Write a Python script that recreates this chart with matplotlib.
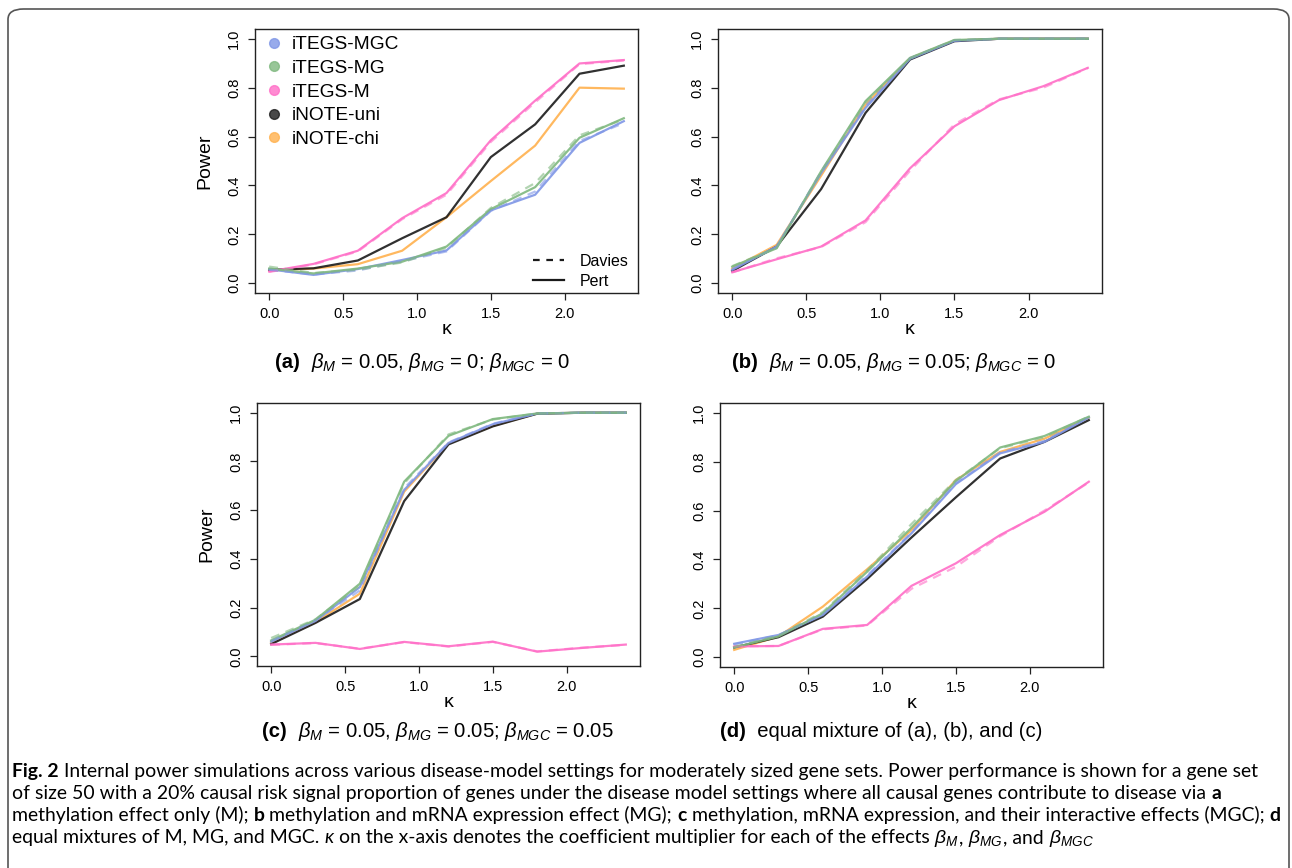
import numpy as np
import matplotlib.pyplot as plt
from matplotlib.lines import Line2D
from matplotlib.patches import FancyBboxPatch

plt.rcParams['font.family'] = ['Liberation Sans', 'DejaVu Sans']
plt.rcParams['mathtext.fontset'] = 'custom'
plt.rcParams['mathtext.rm'] = 'Liberation Sans'
plt.rcParams['mathtext.it'] = 'Liberation Sans:italic'
plt.rcParams['mathtext.bf'] = 'Liberation Sans:bold'

# data
kappa = [0.0, 0.3, 0.6, 0.9, 1.2, 1.5, 1.8, 2.1, 2.4]

a_mgc_pert = [0.057, 0.034, 0.058, 0.095, 0.134, 0.298, 0.362, 0.574, 0.663]
a_mgc_davies = [0.055, 0.036, 0.052, 0.090, 0.130, 0.296, 0.375, 0.582, 0.655]
a_mg_pert = [0.060, 0.040, 0.060, 0.088, 0.150, 0.303, 0.393, 0.595, 0.675]
a_mg_davies = [0.068, 0.042, 0.055, 0.085, 0.145, 0.308, 0.410, 0.605, 0.670]
a_m_pert = [0.048, 0.079, 0.133, 0.266, 0.369, 0.585, 0.747, 0.899, 0.913]
a_m_davies = [0.046, 0.077, 0.130, 0.262, 0.362, 0.578, 0.740, 0.896, 0.911]
a_uni = [0.055, 0.061, 0.093, 0.184, 0.270, 0.516, 0.650, 0.857, 0.890]
a_chi = [0.052, 0.060, 0.078, 0.133, 0.270, 0.418, 0.563, 0.800, 0.796]

b_mgc_pert = [0.055, 0.150, 0.450, 0.717, 0.918, 0.992, 1.0, 1.0, 1.0]
b_mgc_davies = [0.058, 0.148, 0.455, 0.725, 0.920, 0.993, 1.0, 1.0, 1.0]
b_mg_pert = [0.068, 0.143, 0.458, 0.745, 0.922, 0.995, 1.0, 1.0, 1.0]
b_mg_davies = [0.070, 0.145, 0.455, 0.740, 0.920, 0.995, 1.0, 1.0, 1.0]
b_m_pert = [0.045, 0.098, 0.150, 0.257, 0.470, 0.642, 0.749, 0.806, 0.881]
b_m_davies = [0.044, 0.102, 0.148, 0.250, 0.460, 0.650, 0.752, 0.800, 0.880]
b_uni = [0.050, 0.150, 0.385, 0.697, 0.915, 0.990, 1.0, 1.0, 1.0]
b_chi = [0.060, 0.157, 0.440, 0.730, 0.920, 0.993, 1.0, 1.0, 1.0]

c_mgc_pert = [0.060, 0.145, 0.284, 0.683, 0.876, 0.953, 0.997, 1.0, 1.0]
c_mgc_davies = [0.062, 0.148, 0.270, 0.690, 0.878, 0.955, 0.997, 1.0, 1.0]
c_mg_pert = [0.065, 0.150, 0.298, 0.717, 0.905, 0.974, 0.997, 1.0, 1.0]
c_mg_davies = [0.075, 0.152, 0.290, 0.710, 0.911, 0.972, 0.997, 1.0, 1.0]
c_m_pert = [0.048, 0.055, 0.030, 0.059, 0.041, 0.060, 0.019, 0.034, 0.048]
c_m_davies = [0.047, 0.054, 0.031, 0.058, 0.040, 0.059, 0.020, 0.035, 0.047]
c_uni = [0.050, 0.137, 0.235, 0.637, 0.870, 0.944, 0.996, 1.0, 1.0]
c_chi = [0.055, 0.140, 0.257, 0.676, 0.874, 0.946, 0.997, 1.0, 1.0]

d_mgc_pert = [0.055, 0.091, 0.173, 0.330, 0.507, 0.708, 0.834, 0.881, 0.981]
d_mgc_davies = [0.052, 0.090, 0.175, 0.335, 0.510, 0.712, 0.838, 0.885, 0.982]
d_mg_pert = [0.040, 0.085, 0.180, 0.350, 0.530, 0.720, 0.858, 0.905, 0.984]
d_mg_davies = [0.042, 0.088, 0.185, 0.355, 0.545, 0.725, 0.855, 0.900, 0.985]
d_m_pert = [0.044, 0.046, 0.116, 0.132, 0.292, 0.384, 0.500, 0.595, 0.718]
d_m_davies = [0.045, 0.046, 0.114, 0.130, 0.280, 0.370, 0.495, 0.600, 0.715]
d_uni = [0.040, 0.082, 0.166, 0.320, 0.490, 0.654, 0.813, 0.881, 0.970]
d_chi = [0.030, 0.085, 0.207, 0.360, 0.520, 0.725, 0.840, 0.894, 0.980]

methods = ['iTEGS-MGC', 'iTEGS-MG', 'iTEGS-M', 'iNOTE-uni', 'iNOTE-chi']
colors = ['#7f96e6', '#7fb87f', '#ff6ec7', '#1a1a1a', '#ffb14e']
xticks = [0.0, 0.5, 1.0, 1.5, 2.0]
yticks = [0.0, 0.2, 0.4, 0.6, 0.8, 1.0]

panels = {
    'a': (a_mgc_pert, a_mgc_davies, a_mg_pert, a_mg_davies, a_m_pert, a_m_davies, a_uni, a_chi),
    'b': (b_mgc_pert, b_mgc_davies, b_mg_pert, b_mg_davies, b_m_pert, b_m_davies, b_uni, b_chi),
    'c': (c_mgc_pert, c_mgc_davies, c_mg_pert, c_mg_davies, c_m_pert, c_m_davies, c_uni, c_chi),
    'd': (d_mgc_pert, d_mgc_davies, d_mg_pert, d_mg_davies, d_m_pert, d_m_davies, d_uni, d_chi),
}
captions = {
    'a': r'$\beta_M$ = 0.05, $\beta_{MG}$ = 0; $\beta_{MGC}$ = 0',
    'b': r'$\beta_M$ = 0.05, $\beta_{MG}$ = 0.05; $\beta_{MGC}$ = 0',
    'c': r'$\beta_M$ = 0.05, $\beta_{MG}$ = 0.05; $\beta_{MGC}$ = 0.05',
    'd': 'equal mixture of (a), (b), and (c)',
}

W, H = 1292, 868
fig = plt.figure(figsize=(W / 100, H / 100), dpi=100)

# outer frame
frame = FancyBboxPatch((8 / W, -0.05), 1281 / W, 1 - 9 / H + 0.05,
                       boxstyle='round,pad=0,rounding_size=0.012',
                       transform=fig.transFigure, fill=False,
                       edgecolor='#555555', lw=1.2)
fig.patches.append(frame)

boxes = {'a': (255, 29, 638, 293), 'b': (718, 29, 1102, 293),
         'c': (257, 403, 640, 666), 'd': (720, 403, 1103, 667)}
cap_pos = {'a': (275, 368), 'b': (732, 368), 'c': (262, 737), 'd': (720, 737)}

renderer = fig.canvas.get_renderer()


def rich(x_px, y_px, parts, size, family, draw=True):
    x = x_px
    for s, weight, style in parts:
        t = fig.text(x / W, 1 - y_px / H, s, fontsize=size, fontweight=weight,
                     fontstyle=style, family=family, va='baseline', ha='left')
        x += t.get_window_extent(renderer).width
        if not draw:
            t.remove()
    return x - x_px


for key, (l, t, r, b) in boxes.items():
    ax = fig.add_axes([l / W, 1 - b / H, (r - l) / W, (b - t) / H])
    mgc_p, mgc_d, mg_p, mg_d, m_p, m_d, uni, chi = panels[key]
    ax.plot(kappa, chi, color=colors[4], lw=1.6, alpha=0.9)
    ax.plot(kappa, uni, color=colors[3], lw=1.6, alpha=0.9)
    ax.plot(kappa, m_p, color=colors[2], lw=1.6, alpha=0.9)
    ax.plot(kappa, mgc_p, color=colors[0], lw=1.6, alpha=0.9)
    ax.plot(kappa, mg_p, color=colors[1], lw=1.6, alpha=0.9)
    ax.plot(kappa, m_d, color=colors[2], lw=1.6, alpha=0.6, ls=(0, (4, 3)))
    ax.plot(kappa, mgc_d, color=colors[0], lw=1.6, alpha=0.6, ls=(0, (4, 3)))
    ax.plot(kappa, mg_d, color=colors[1], lw=1.6, alpha=0.6, ls=(0, (4, 3)))
    ax.set_xlim(-0.096, 2.496)
    ax.set_ylim(-0.04, 1.04)
    ax.set_xticks(xticks)
    ax.set_xticklabels(['%.1f' % v for v in xticks])
    ax.set_yticks(yticks)
    ax.set_yticklabels(['%.1f' % v for v in yticks], rotation=90, va='center')
    ax.tick_params(length=5, width=0.9, pad=5, labelsize=10.5, color='#222222')
    for sp in ax.spines.values():
        sp.set_linewidth(1.0)
        sp.set_color('#222222')
    ax.set_xlabel('κ', fontsize=14, labelpad=0)
    if key in ('a', 'c'):
        ax.set_ylabel('Power', fontsize=14, labelpad=10)
    if key == 'a':
        h1 = [Line2D([], [], ls='none', marker='o', ms=7, color=c, alpha=0.8) for c in colors]
        leg1 = ax.legend(h1, methods, loc='upper left', bbox_to_anchor=(-0.005, 1.025),
                         frameon=False, fontsize=13.8, handlelength=0.8,
                         handletextpad=0.5, labelspacing=0.33, borderaxespad=0.3)
        ax.add_artist(leg1)
        h2 = [Line2D([], [], color='#1a1a1a', lw=1.6, ls=(0, (3, 3))),
              Line2D([], [], color='#1a1a1a', lw=1.6)]
        ax.legend(h2, ['Davies', 'Pert'], loc='lower right', bbox_to_anchor=(1.0, -0.02),
                  frameon=False, fontsize=11.5, handlelength=1.95, handletextpad=0.95,
                  labelspacing=0.3, borderaxespad=0.2)
    cx, cy = cap_pos[key]
    rich(cx, cy, [('(%s)' % key, 'bold', 'normal'), ('  ' + captions[key], 'normal', 'normal')],
         14.6, ['Liberation Sans', 'DejaVu Sans'])

# figure caption
cap_font = ['Lato', 'DejaVu Sans']
cap_lines = [
    [('Fig. 2', 'bold', 'normal'),
     (' Internal power simulations across various disease-model settings for moderately sized gene sets. '
      'Power performance is shown for a gene set', 'normal', 'normal')],
    [('of size 50 with a 20% causal risk signal proportion of genes under the disease model settings '
      'where all causal genes contribute to disease via ', 'normal', 'normal'), ('a', 'bold', 'normal')],
    [('methylation effect only (M); ', 'normal', 'normal'), ('b', 'bold', 'normal'),
     (' methylation and mRNA expression effect (MG); ', 'normal', 'normal'), ('c', 'bold', 'normal'),
     (' methylation, mRNA expression, and their interactive effects (MGC); ', 'normal', 'normal'),
     ('d', 'bold', 'normal')],
    [('equal mixtures of M, MG, and MGC. ', 'normal', 'normal'), ('κ', 'normal', 'italic'),
     (' on the x-axis denotes the coefficient multiplier for each of the effects ', 'normal', 'normal'),
     (r'$\beta_M$', 'normal', 'normal'), (', ', 'normal', 'normal'), (r'$\beta_{MG}$', 'normal', 'normal'),
     (', and ', 'normal', 'normal'), (r'$\beta_{MGC}$', 'normal', 'normal')],
]
# fit the widest caption line inside the frame
widest = max(rich(12, 776, line, 10, cap_font, draw=False) for line in cap_lines)
cap_size = 10 * 1266 / widest
for i, line in enumerate(cap_lines):
    rich(12, 777 + 22 * i, line, cap_size, cap_font)

fig.savefig('out.png', dpi=100)
